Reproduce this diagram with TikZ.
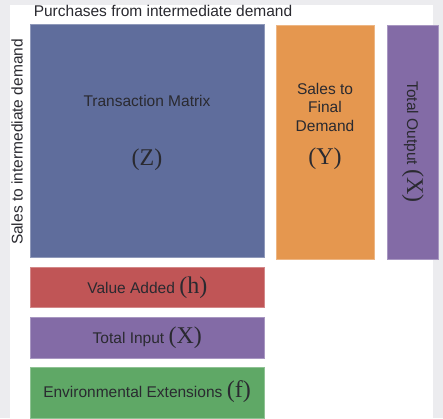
\documentclass[tikz,border=0pt]{standalone}
\usepackage{fontspec}
\setmainfont{Liberation Sans}
\newfontfamily\symfont{Liberation Serif}
\usetikzlibrary{positioning}
\definecolor{cbg}{HTML}{ECECEF}
\definecolor{cblue}{HTML}{5F6D9C}
\definecolor{corange}{HTML}{E5974F}
\definecolor{cpurple}{HTML}{836BA6}
\definecolor{cred}{HTML}{C05556}
\definecolor{cgreen}{HTML}{5FA866}
\definecolor{ctext}{HTML}{2A2A30}
\tikzset{
  every picture/.style={x=1pt, y=-1pt},
  block/.style={fill=#1, draw=#1!70!white, line width=0.6pt, anchor=north west, inner sep=0pt},
  label/.style={text=ctext, align=center, font=\fontsize{15.5}{18.5}\selectfont},
  sym/.style={text=ctext, font=\symfont\fontsize{24}{26}\selectfont},
}
\newcommand{\symtext}[1]{{\symfont\fontsize{24}{26}\selectfont #1}}

\begin{document}
\begin{tikzpicture}
  \useasboundingbox (0,0) rectangle (443,418);
  \fill[cbg] (0,0) rectangle (443,418);
  \fill[white] (10,5) rectangle (433,418);
  % inter-industry block and the columns to its right
  \node[block=cblue, minimum width=234pt, minimum height=233pt] (z) at (30,24) {};
  \node[block=corange, minimum width=98pt, minimum height=234pt] (y) at (276,25) {};
  \node[block=cpurple, minimum width=51pt, minimum height=234pt] (xout) at (387,25) {};
  % rows below
  \node[block=cred, minimum width=234pt, minimum height=40pt] (h) at (30,267) {};
  \node[block=cpurple, minimum width=234pt, minimum height=41pt] (xin) at (30,317) {};
  \node[block=cgreen, minimum width=234pt, minimum height=51pt] (f) at (30,367) {};
  % texts
  \node[label] (zname) at (147,101) {Transaction Matrix};
  \node[sym] (zsym) at (147,160) {(Z)};
  \node[label] (yname) at (325,107) {Sales to\\Final\\Demand};
  \node[sym] (ysym) at (325,159) {(Y)};
  \node[label, rotate=-90] (xoutname) at (xout.center |- 0,142) {Total Output \symtext{(X)}};
  \node[label] (hname) at (h) {Value Added \symtext{(h)}};
  \node[label] (xinname) at (xin) {Total Input \symtext{(X)}};
  \node[label] (fname) at (147,392) {Environmental Extensions \symtext{(f)}};
  \node[label] (cols) at (163,11) {Purchases from intermediate demand};
  \node[label, rotate=90] (rows) at (17,142) {Sales to intermediate demand};
\end{tikzpicture}
\end{document}
